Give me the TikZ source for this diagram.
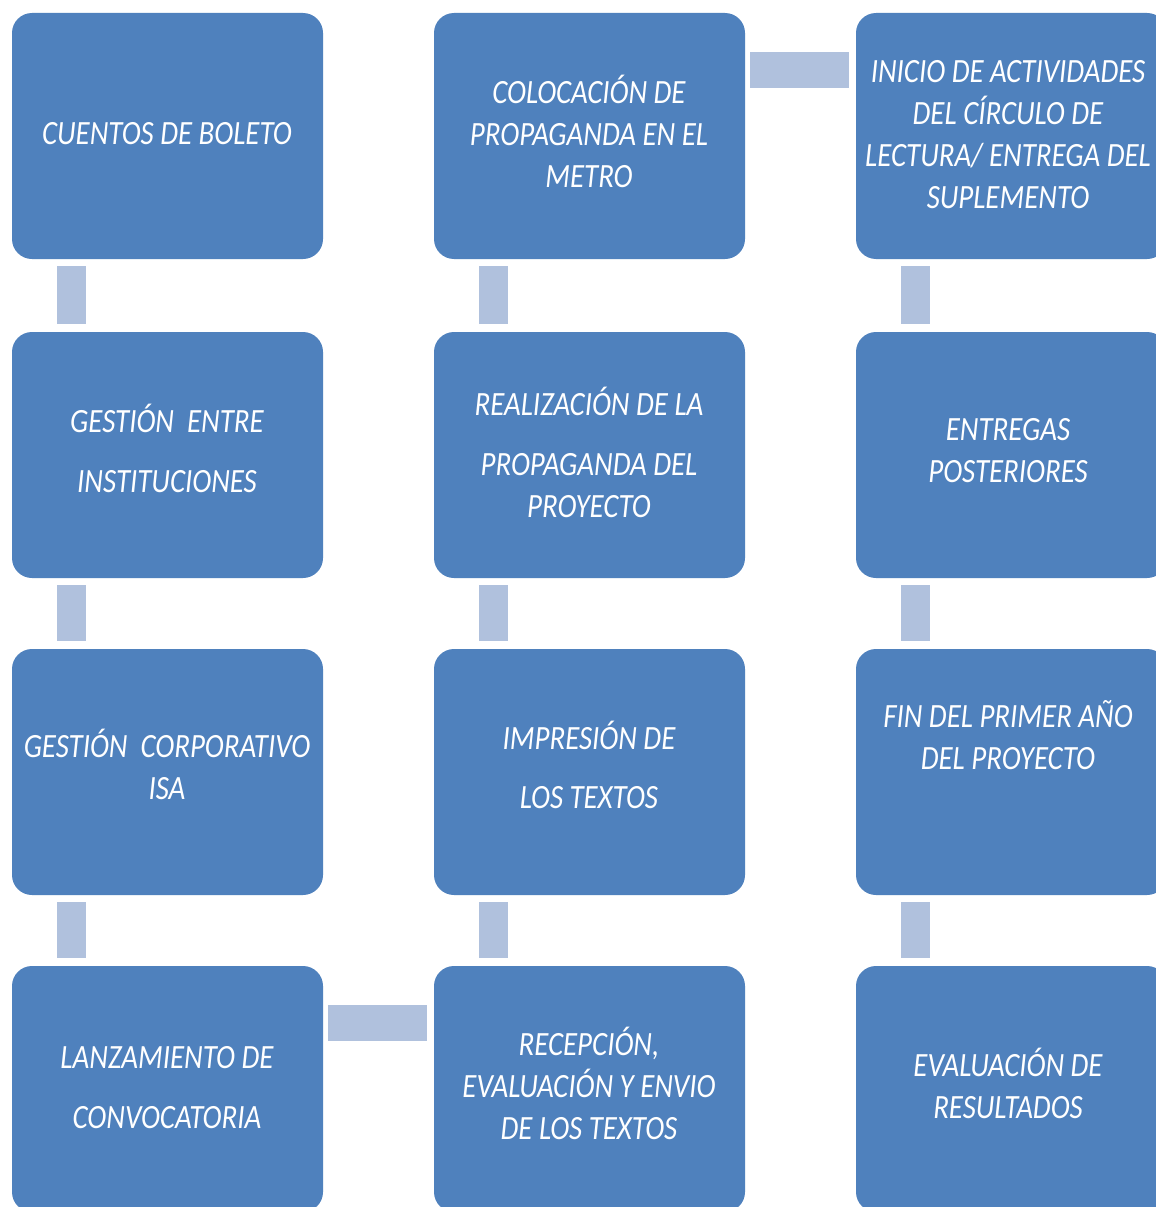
\documentclass[tikz,border=0pt]{standalone}
\usepackage{fontspec}
\newfontfamily\boxfont[FakeStretch=0.85]{Carlito}
\definecolor{boxblue}{HTML}{4F81BD}
\definecolor{barblue}{HTML}{B0C1DD}
\begin{document}
\begin{tikzpicture}[x=1pt,y=-1pt,
  stepbox/.style={fill=boxblue, draw=none, rounded corners=20pt,
    minimum width=311pt, minimum height=246pt, inner sep=0pt, outer sep=0pt},
  txt/.style={text=white, font=\boxfont\itshape\fontsize{34}{42}\selectfont,
    align=center, inner sep=0pt},
  vbar/.style={draw=barblue, line width=29pt, line cap=butt,
    shorten <=7pt, shorten >=8pt},
  hbar/.style={draw=barblue, line width=36pt, line cap=butt,
    shorten <=5pt, shorten >=7pt}]
\clip (0,0) rectangle (1156,1207);
\fill[white] (0,0) rectangle (1156,1207);

% boxes: columns at x = 167.5, 589.5, 1011.5 ; rows at y = 136, 455, 772, 1089
\node[stepbox] (b11) at (167.5,136) {};
\node[stepbox] (b21) at (167.5,455) {};
\node[stepbox] (b31) at (167.5,772) {};
\node[stepbox] (b41) at (167.5,1089) {};
\node[stepbox] (b12) at (589.5,136) {};
\node[stepbox] (b22) at (589.5,455) {};
\node[stepbox] (b32) at (589.5,772) {};
\node[stepbox] (b42) at (589.5,1089) {};
\node[stepbox] (b13) at (1011.5,136) {};
\node[stepbox] (b23) at (1011.5,455) {};
\node[stepbox] (b33) at (1011.5,772) {};
\node[stepbox] (b43) at (1011.5,1089) {};

% vertical connectors
\foreach \c in {1,2,3}{
  \draw[vbar] ([xshift=-96pt]b1\c.south) -- ([xshift=-96pt]b2\c.north);
  \draw[vbar] ([xshift=-96pt]b2\c.south) -- ([xshift=-96pt]b3\c.north);
  \draw[vbar] ([xshift=-96pt]b3\c.south) -- ([xshift=-96pt]b4\c.north);
}
% horizontal connectors
\draw[hbar] ([yshift=-57pt]b12.north east) -- ([yshift=-57pt]b13.north west);
\draw[hbar] ([yshift=-56.5pt]b41.north east) -- ([yshift=-56.5pt]b42.north west);

% texts
\node[txt] (t11) at (167,136.3) {\strut CUENTOS DE BOLETO\strut};
\node[txt] (t21) at (167,454.3) {\strut GESTIÓN~~ENTRE\\[18pt]INSTITUCIONES\strut};
\node[txt] (t31) at (167,769.8) {\strut GESTIÓN~~CORPORATIVO\\ISA\strut};
\node[txt] (t41) at (167,1090.3) {\strut LANZAMIENTO DE\\[18pt]CONVOCATORIA\strut};

\node[txt] (t12) at (589,137) {\strut COLOCACIÓN DE\\PROPAGANDA EN EL\\METRO\strut};
\node[txt] (t22) at (589,457.6) {\strut REALIZACIÓN DE LA\\[18pt]PROPAGANDA DEL\\PROYECTO\strut};
\node[txt] (t32) at (589,770.8) {\strut IMPRESIÓN DE\\[17pt]LOS TEXTOS\strut};
\node[txt] (t42) at (589,1089) {\strut RECEPCIÓN,\\EVALUACIÓN Y ENVIO\\DE LOS TEXTOS\strut};

\node[txt] (t13) at (1008,137) {\strut INICIO DE ACTIVIDADES\\DEL CÍRCULO DE\\LECTURA/ ENTREGA DEL\\SUPLEMENTO\strut};
\node[txt] (t23) at (1008,452.8) {\strut ENTREGAS\\POSTERIORES\strut};
\node[txt] (t33) at (1008,740.3) {\strut FIN DEL PRIMER AÑO\\DEL PROYECTO\strut};
\node[txt] (t43) at (1008,1088.8) {\strut EVALUACIÓN DE\\RESULTADOS\strut};
\end{tikzpicture}
\end{document}
